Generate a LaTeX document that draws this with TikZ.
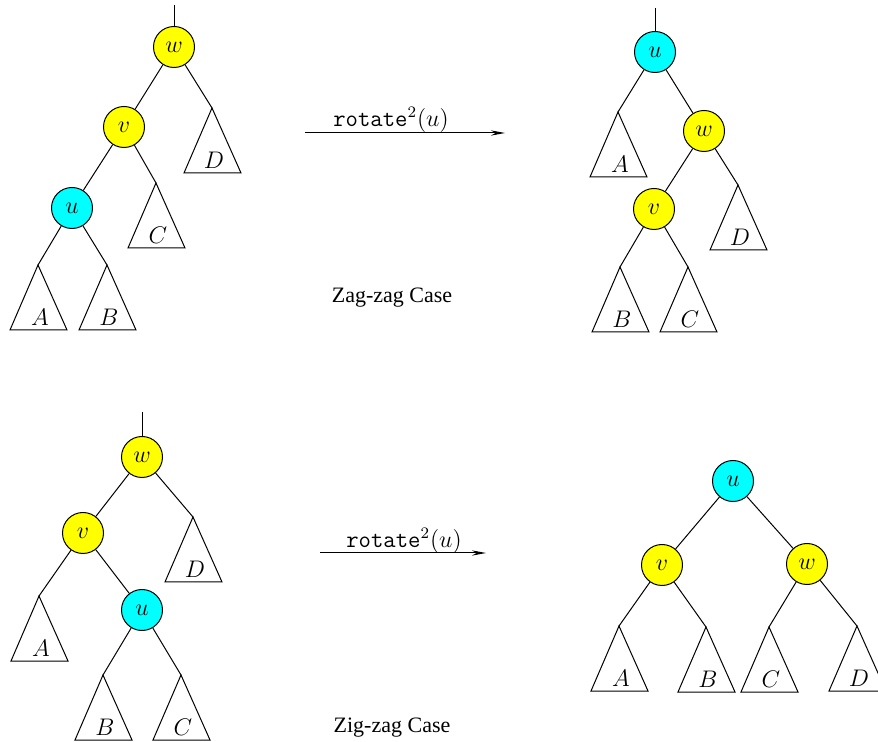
\documentclass[tikz,border=0pt]{standalone}
\usepackage{fontspec}
\setmainfont{Liberation Serif}
\usetikzlibrary{arrows.meta}

\definecolor{keyyellow}{RGB}{255,255,0}
\definecolor{keycyan}{RGB}{0,255,255}
\tikzset{
  key/.style={circle,draw,minimum size=20.5pt,inner sep=0pt,
              font=\fontsize{13}{15}\selectfont},
  yel/.style={key,fill=keyyellow},
  cya/.style={key,fill=keycyan},
  rot/.style={font=\fontsize{12}{14}\selectfont},
}
% subtree: apex name, x, y, label
\newcommand{\subtree}[4]{%
  \coordinate (#1) at (#2,#3);
  \draw (#1) -- ++(-28,65) -- ++(57,0) -- cycle;
  \node[font=\fontsize{13}{15}\selectfont] (#1l) at ([shift={(2,52)}]#1) {$#4$};
}

\begin{document}
\begin{tikzpicture}[x=0.5pt,y=-0.5pt,line width=0.5pt,
                    every node/.style={font=\fontsize{11}{13}\selectfont}]
\useasboundingbox (0,0) rectangle (878,742);

% zag-zag, before
\node[yel] (w1) at (174,47)  {$w$};
\node[yel] (v1) at (124,127) {$v$};
\node[cya] (u1) at (72,208)  {$u$};
\coordinate (r1) at (174,5);
\subtree{A1}{38}{265}{A}
\subtree{B1}{107}{265}{B}
\subtree{C1}{156}{183}{C}
\subtree{D1}{212}{108}{D}
\draw (r1) -- (w1);
\draw (w1) -- (v1);  \draw (w1) -- (D1);
\draw (v1) -- (u1);  \draw (v1) -- (C1);
\draw (u1) -- (A1);  \draw (u1) -- (B1);

% zag-zag, after
\node[cya] (u2) at (655,52)  {$u$};
\node[yel] (w2) at (704,131) {$w$};
\node[yel] (v2) at (654,209) {$v$};
\coordinate (r2) at (655,8);
\subtree{A2}{618}{112}{A}
\subtree{D2}{738}{185}{D}
\subtree{B2}{620}{267}{B}
\subtree{C2}{688}{267}{C}
\draw (r2) -- (u2);
\draw (u2) -- (A2);  \draw (u2) -- (w2);
\draw (w2) -- (v2);  \draw (w2) -- (D2);
\draw (v2) -- (B2);  \draw (v2) -- (C2);

% zig-zag, before
\node[yel] (w3) at (142,457) {$w$};
\node[yel] (v3) at (83,533)  {$v$};
\node[cya] (u3) at (142,610) {$u$};
\coordinate (r3) at (142,412);
\subtree{D3}{193}{517}{D}
\subtree{A3}{39}{596}{A}
\subtree{B3}{103}{675}{B}
\subtree{C3}{181}{675}{C}
\draw (r3) -- (w3);
\draw (w3) -- (v3);  \draw (w3) -- (D3);
\draw (v3) -- (A3);  \draw (v3) -- (u3);
\draw (u3) -- (B3);  \draw (u3) -- (C3);

% zig-zag, after
\node[cya] (u4) at (733,481) {$u$};
\node[yel] (v4) at (662,565) {$v$};
\node[yel] (w4) at (807,564) {$w$};
\subtree{A4}{619}{626}{A}
\subtree{B4}{706}{627}{B}
\subtree{C4}{769}{627}{C}
\subtree{D4}{857}{626}{D}
\draw (u4) -- (v4);  \draw (u4) -- (w4);
\draw (v4) -- (A4);  \draw (v4) -- (B4);
\draw (w4) -- (C4);  \draw (w4) -- (D4);

% arrows and captions
\coordinate (s1) at (305,133);
\coordinate (e1) at (505,133);
\draw[-{Stealth[length=7pt,width=2.6pt]}] (s1) -- (e1);
\node[rot] (rot1) at (391,120) {\texttt{rotate}$^2(u)$};
\node (zag) at (392,298) {Zag-zag Case};

\coordinate (s2) at (320,553);
\coordinate (e2) at (486,553);
\draw[-{Stealth[length=7pt,width=2.6pt]}] (s2) -- (e2);
\node[rot] (rot2) at (404,541) {\texttt{rotate}$^2(u)$};
\node (zig) at (392,728) {Zig-zag Case};
\end{tikzpicture}
\end{document}
